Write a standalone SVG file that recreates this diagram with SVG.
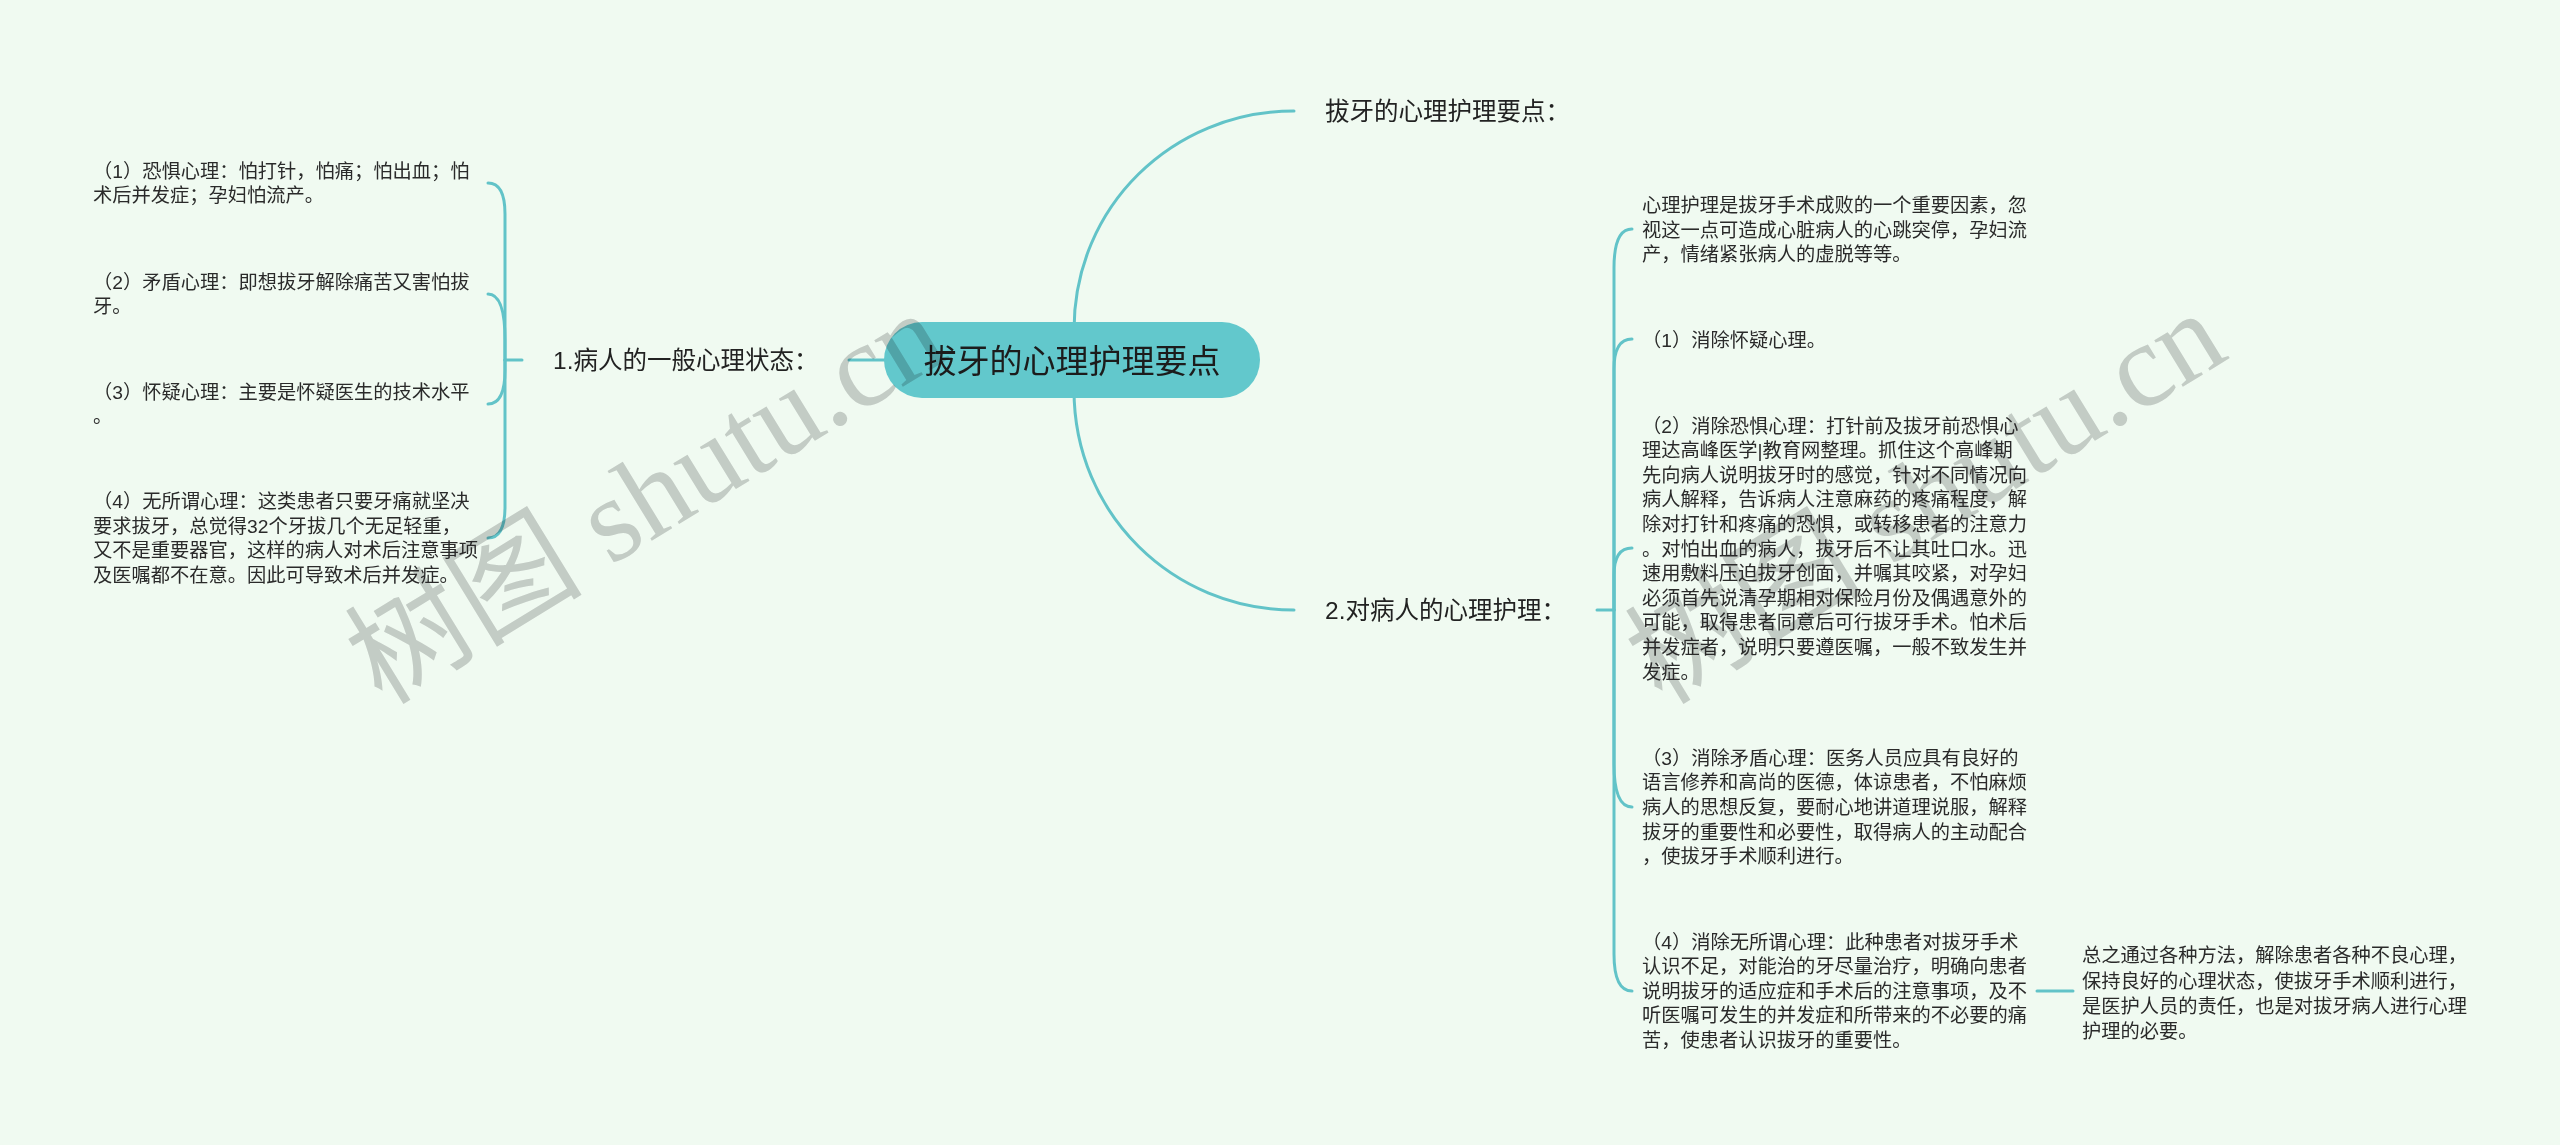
<svg xmlns="http://www.w3.org/2000/svg" width="2560" height="1145" viewBox="0 0 2560 1145">
<style>
.t{font-family:"Liberation Sans","Noto Sans CJK SC",sans-serif;font-size:19.25px;fill:#2a2a2a}
.b{font-family:"Liberation Sans","Noto Sans CJK SC",sans-serif;font-size:24.5px;fill:#222}
.c{font-family:"Liberation Sans","Noto Sans CJK SC",sans-serif;font-size:33px;fill:#1c1c1c}
.ln{fill:none;stroke:#62c3c8;stroke-width:3;stroke-linecap:round}
.wm{font-family:"Liberation Serif","Noto Sans CJK SC",serif;font-size:119px;fill:#d0d0d1;mix-blend-mode:multiply}
</style>
<rect x="0" y="0" width="2560" height="1145" fill="#f0faf1"/>
<g id="connectors">
<path class="ln" d="M849 360 H886"/>
<path class="ln" d="M505 360 H522"/>
<path class="ln" d="M505 360 V214 Q505 183 488 183"/>
<path class="ln" d="M505 360 V340 Q505 294 488 294"/>
<path class="ln" d="M505 360 V370 Q505 404 488 404"/>
<path class="ln" d="M505 360 V507 Q505 538 488 538"/>
<path class="ln" d="M1074 330 C1074 206 1173 111 1294 111"/>
<path class="ln" d="M1074 390 C1074 514 1173 610 1294 610"/>
<path class="ln" d="M1597 610 H1614"/>
<path class="ln" d="M1614 610 V268 Q1614 229 1632 229"/>
<path class="ln" d="M1614 610 V369 Q1614 339 1632 339"/>
<path class="ln" d="M1614 610 V575 Q1614 548 1632 548"/>
<path class="ln" d="M1614 610 V764 Q1614 807 1632 807"/>
<path class="ln" d="M1614 610 V954 Q1614 991 1632 991"/>
<path class="ln" d="M2037 991 H2073"/>
</g>
<g id="root">
<rect x="884" y="322" width="376" height="76" rx="38" fill="#62c8cc"/>
<text class="c" x="1072" y="372.5" text-anchor="middle">拔牙的心理护理要点</text>
</g>
<g id="wm">
<text class="wm" transform="translate(382 706) rotate(-31.5)">树图 shutu.cn</text>
<text class="wm" transform="translate(1662 706) rotate(-31.5)">树图 shutu.cn</text>
</g>
<g id="branch1"><text class="b" x="553" y="369">1.病人的一般心理状态：</text></g>
<g id="l1"><text class="t"><tspan x="93" y="177.75">（1）恐惧心理：怕打针，怕痛；怕出血；怕</tspan><tspan x="93" y="202.25">术后并发症；孕妇怕流产。</tspan></text></g>
<g id="l2"><text class="t"><tspan x="93" y="288.75">（2）矛盾心理：即想拔牙解除痛苦又害怕拔</tspan><tspan x="93" y="313.25">牙。</tspan></text></g>
<g id="l3"><text class="t"><tspan x="93" y="398.75">（3）怀疑心理：主要是怀疑医生的技术水平</tspan><tspan x="93" y="423.25">。</tspan></text></g>
<g id="l4"><text class="t"><tspan x="93" y="508.25">（4）无所谓心理：这类患者只要牙痛就坚决</tspan><tspan x="93" y="532.75">要求拔牙，总觉得32个牙拔几个无足轻重，</tspan><tspan x="93" y="557.25">又不是重要器官，这样的病人对术后注意事项</tspan><tspan x="93" y="581.75">及医嘱都不在意。因此可导致术后并发症。</tspan></text></g>
<g id="branch2"><text class="b" x="1325" y="120">拔牙的心理护理要点：</text></g>
<g id="branch3"><text class="b" x="1325" y="619">2.对病人的心理护理：</text></g>
<g id="r0"><text class="t"><tspan x="1642" y="212">心理护理是拔牙手术成败的一个重要因素，忽</tspan><tspan x="1642" y="236.6">视这一点可造成心脏病人的心跳突停，孕妇流</tspan><tspan x="1642" y="261.2">产，情绪紧张病人的虚脱等等。</tspan></text></g>
<g id="r1"><text class="t" x="1642" y="346.5">（1）消除怀疑心理。</text></g>
<g id="r2"><text class="t"><tspan x="1642" y="432.5">（2）消除恐惧心理：打针前及拔牙前恐惧心</tspan><tspan x="1642" y="457.1">理达高峰医学|教育网整理。抓住这个高峰期</tspan><tspan x="1642" y="481.7">先向病人说明拔牙时的感觉，针对不同情况向</tspan><tspan x="1642" y="506.3">病人解释，告诉病人注意麻药的疼痛程度，解</tspan><tspan x="1642" y="530.9">除对打针和疼痛的恐惧，或转移患者的注意力</tspan><tspan x="1642" y="555.5">。对怕出血的病人，拔牙后不让其吐口水。迅</tspan><tspan x="1642" y="580.1">速用敷料压迫拔牙创面，并嘱其咬紧，对孕妇</tspan><tspan x="1642" y="604.7">必须首先说清孕期相对保险月份及偶遇意外的</tspan><tspan x="1642" y="629.3">可能，取得患者同意后可行拔牙手术。怕术后</tspan><tspan x="1642" y="653.9">并发症者，说明只要遵医嘱，一般不致发生并</tspan><tspan x="1642" y="678.5">发症。</tspan></text></g>
<g id="r3"><text class="t"><tspan x="1642" y="764.8">（3）消除矛盾心理：医务人员应具有良好的</tspan><tspan x="1642" y="789.4">语言修养和高尚的医德，体谅患者，不怕麻烦</tspan><tspan x="1642" y="814">病人的思想反复，要耐心地讲道理说服，解释</tspan><tspan x="1642" y="838.6">拔牙的重要性和必要性，取得病人的主动配合</tspan><tspan x="1642" y="863.2">，使拔牙手术顺利进行。</tspan></text></g>
<g id="r4"><text class="t"><tspan x="1642" y="948.5">（4）消除无所谓心理：此种患者对拔牙手术</tspan><tspan x="1642" y="973.1">认识不足，对能治的牙尽量治疗，明确向患者</tspan><tspan x="1642" y="997.7">说明拔牙的适应症和手术后的注意事项，及不</tspan><tspan x="1642" y="1022.3">听医嘱可发生的并发症和所带来的不必要的痛</tspan><tspan x="1642" y="1046.9">苦，使患者认识拔牙的重要性。</tspan></text></g>
<g id="r5"><text class="t"><tspan x="2082" y="962">总之通过各种方法，解除患者各种不良心理，</tspan><tspan x="2082" y="988">保持良好的心理状态，使拔牙手术顺利进行，</tspan><tspan x="2082" y="1013">是医护人员的责任，也是对拔牙病人进行心理</tspan><tspan x="2082" y="1038">护理的必要。</tspan></text></g>
</svg>
